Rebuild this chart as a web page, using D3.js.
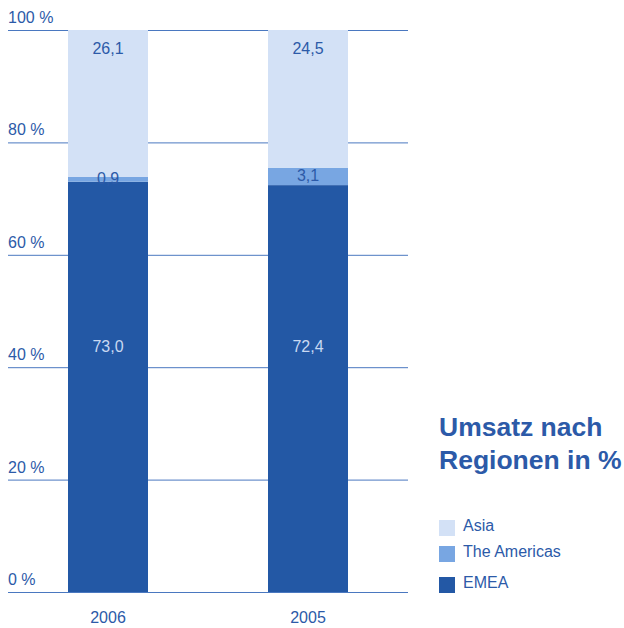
<!DOCTYPE html>
<html lang="de">
<head>
<meta charset="UTF-8">
<title>Umsatz nach Regionen in %</title>
<script src="https://d3js.org/d3.v7.min.js"></script>
<style>
    body { margin: 0; background: #fff; }
    svg { font-family: "Liberation Sans", Arial, Helvetica, sans-serif; }
</style>
</head>
<body>
<div id="chart"></div>
<script>
    const years = ["2006", "2005"];
    const regions = ["EMEA", "The Americas", "Asia"];
    const emea = [73.0, 72.4];
    const americas = [0.9, 3.1];
    const asia = [26.1, 24.5];
    const yTicks = [0, 20, 40, 60, 80, 100];

    const width = 624;
    const height = 628;
    const barWidth = 80;
    const textColor = "#2c5aa8";
    const colors = { "EMEA": "#2358a5", "The Americas": "#78a6e2", "Asia": "#d3e1f6" };

    const svg = d3.select("#chart").append("svg")
        .attr("width", width)
        .attr("height", height);

    const x = d3.scalePoint().domain(years).range([8, 408]).padding(0.5);
    const y = d3.scaleLinear().domain([0, 100]).range([592, 30]);

    // gridlines + tick labels
    const grid = svg.append("g");
    grid.selectAll("line").data(yTicks).join("line")
        .attr("x1", 8).attr("x2", 408)
        .attr("y1", d => y(d) + 0.5).attr("y2", d => y(d) + 0.5)
        .attr("stroke", "#4a78c0").attr("stroke-width", 1);
    grid.selectAll("text").data(yTicks).join("text")
        .attr("x", 8).attr("y", d => y(d) - 7)
        .attr("fill", textColor).attr("font-size", 16)
        .text(d => d + " %");

    const table = years.map((yr, i) => ({ year: yr, "EMEA": emea[i], "The Americas": americas[i], "Asia": asia[i] }));
    const series = d3.stack().keys(regions)(table);

    const layers = svg.append("g").selectAll("g").data(series).join("g")
        .attr("fill", s => colors[s.key]);
    layers.selectAll("rect").data(s => s).join("rect")
        .attr("x", d => x(d.data.year) - barWidth / 2)
        .attr("width", barWidth)
        .attr("y", d => y(d[1]))
        .attr("height", d => y(d[0]) - y(d[1]));

    const fmt = v => v.toFixed(1).replace(".", ",");
    const labels = svg.append("g").attr("text-anchor", "middle").attr("font-size", 16);
    series.forEach(s => {
        s.forEach(d => {
            const v = d.data[s.key];
            let ly;
            if (s.key === "EMEA") ly = y(43.8) + 6;
            else if (s.key === "Asia") ly = y(d[1]) + 24;
            else ly = y((d[0] + d[1]) / 2) + 5;
            labels.append("text")
                .attr("x", x(d.data.year))
                .attr("y", ly)
                .attr("fill", s.key === "EMEA" ? "#c9d9f2" : textColor)
                .text(fmt(v));
        });
    });

    // year labels
    svg.append("g").selectAll("text").data(years).join("text")
        .attr("x", d => x(d))
        .attr("y", 623)
        .attr("text-anchor", "middle")
        .attr("fill", textColor).attr("font-size", 16)
        .text(d => d);

    // title
    const title = svg.append("text").attr("x", 439).attr("y", 436)
        .attr("fill", textColor).attr("font-size", 26.5).attr("font-weight", "bold");
    title.append("tspan").attr("x", 439).text("Umsatz nach");
    title.append("tspan").attr("x", 439).attr("dy", 33).text("Regionen in %");

    // legend
    const legendItems = ["Asia", "The Americas", "EMEA"];
    const legendY = [520, 546, 577];
    const legend = svg.append("g");
    legendItems.forEach((k, i) => {
        legend.append("rect").attr("x", 439).attr("y", legendY[i])
            .attr("width", 16).attr("height", 16).attr("fill", colors[k]);
        legend.append("text").attr("x", 463).attr("y", legendY[i] + 11)
            .attr("fill", textColor).attr("font-size", 16).text(k);
    });
</script>
</body>
</html>
